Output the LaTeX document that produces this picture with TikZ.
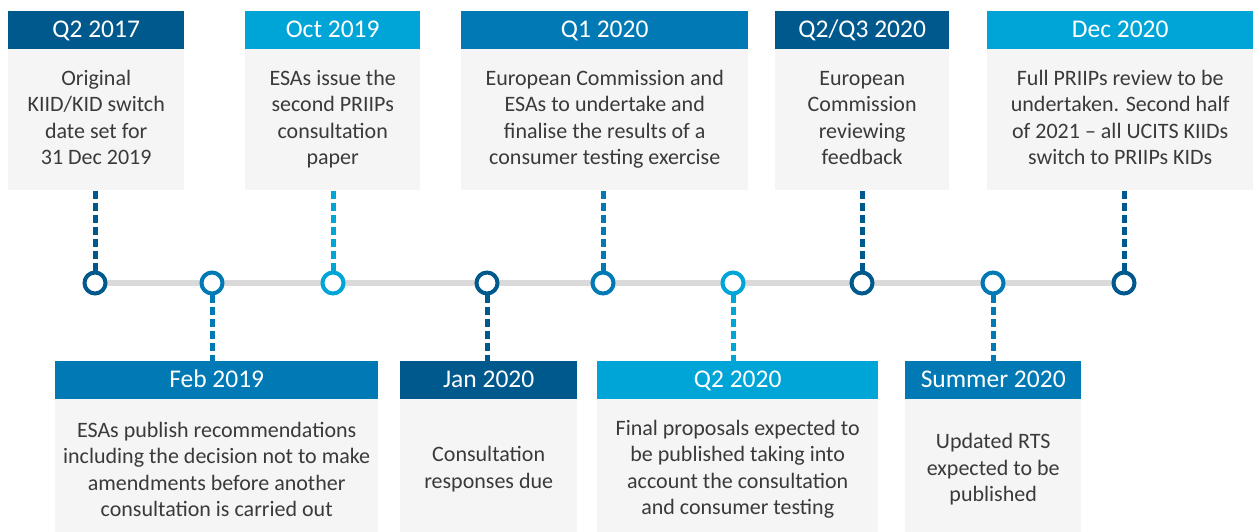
\documentclass[tikz,border=0pt]{standalone}
\usepackage{fontspec}
\setmainfont{Carlito}
\definecolor{cdark}{HTML}{00598D}
\definecolor{cmid}{HTML}{0079B4}
\definecolor{clight}{HTML}{00A5D8}
\definecolor{cbody}{HTML}{F5F5F5}
\definecolor{ctrack}{HTML}{DADADA}
\definecolor{ctext}{HTML}{3A3A3A}
% text of an upper event, set a little above the box centre
\newcommand\upperlines[1]{\raisebox{2pt}{\begin{tabular}{@{}c@{}}#1\end{tabular}}}
\begin{document}
\begin{tikzpicture}[x=1pt,y=-1pt,
  hdr/.style={anchor=north west, inner sep=0pt, minimum height=38,
    text height=18pt, text depth=3pt,
    text=white, font=\fontsize{25.5}{28}\selectfont},
  bodybox/.style={anchor=north west, fill=cbody, inner sep=0pt,
    text=ctext, align=center, font=\fontsize{22}{26.5}\selectfont},
  dot/.style={circle, draw, line width=4, fill=white, minimum size=21, inner sep=0pt},
  link/.style={line width=5, dash pattern=on 8pt off 4pt}]
\useasboundingbox (0,0) rectangle (1253,531);

% ---- upper events ----
\node[hdr, fill=cdark,  minimum width=176] (h1) at (8,11)   {Q2 2017};
\node[bodybox, minimum width=176, minimum height=141] (b1) at (8,49)
  {\upperlines{Original\\KIID/KID switch\\date set for\\31 Dec 2019}};
\node[hdr, fill=clight, minimum width=175] (h3) at (245,11) {Oct 2019};
\node[bodybox, minimum width=175, minimum height=141] (b3) at (245,49)
  {\upperlines{ESAs issue the\\second PRIIPs\\consultation\\paper}};
\node[hdr, fill=cmid,   minimum width=287] (h5) at (461,11) {Q1 2020};
\node[bodybox, minimum width=287, minimum height=141] (b5) at (461,49)
  {\upperlines{European Commission and\\ESAs to undertake and\\finalise the results of a\\consumer testing exercise}};
\node[hdr, fill=cdark,  minimum width=174] (h7) at (775,11) {Q2/Q3 2020};
\node[bodybox, minimum width=174, minimum height=141] (b7) at (775,49)
  {\upperlines{European\\Commission\\reviewing\\feedback}};
\node[hdr, fill=clight, minimum width=266] (h9) at (987,11) {Dec 2020};
\node[bodybox, minimum width=266, minimum height=141] (b9) at (987,49)
  {\upperlines{Full PRIIPs review to be\\undertaken. Second half\\of 2021 -- all UCITS KIIDs\\switch to PRIIPs KIDs}};

% ---- lower events ----
\node[hdr, fill=cmid,   minimum width=323] (h2) at (55,361)  {Feb 2019};
\node[bodybox, minimum width=323, minimum height=140] (b2) at (55,399)
  {ESAs publish recommendations\\including the decision not to make\\amendments before another\\consultation is carried out};
\node[hdr, fill=cdark,  minimum width=177] (h4) at (400,361) {Jan 2020};
\node[bodybox, minimum width=177, minimum height=140] (b4) at (400,399)
  {Consultation\\responses due};
\node[hdr, fill=clight, minimum width=281] (h6) at (597,361) {Q2 2020};
\node[bodybox, minimum width=281, minimum height=140] (b6) at (597,399)
  {Final proposals expected to\\be published taking into\\account the consultation\\and consumer testing};
\node[hdr, fill=cmid,   minimum width=176] (h8) at (905,361) {Summer 2020};
\node[bodybox, minimum width=176, minimum height=140] (b8) at (905,399)
  {Updated RTS\\expected to be\\published};

% ---- timeline anchors ----
\coordinate (p1) at (95,283);
\coordinate (p2) at (212,283);
\coordinate (p3) at (333,283);
\coordinate (p4) at (487,283);
\coordinate (p5) at (603,283);
\coordinate (p6) at (733,283);
\coordinate (p7) at (862,283);
\coordinate (p8) at (993,283);
\coordinate (p9) at (1124,283);

% track
\draw[ctrack, line width=5.5] (p1) -- (p9);

% dashed links to the event boxes
\draw[link, cdark]  (p1) -- (p1 |- b1.south);
\draw[link, clight] (p3) -- (p3 |- b3.south);
\draw[link, cmid]   (p5) -- (p5 |- b5.south);
\draw[link, cdark]  (p7) -- (p7 |- b7.south);
\draw[link, cdark]  (p9) -- (p9 |- b9.south);
\draw[link, cmid]   (p2) -- (p2 |- h2.north);
\draw[link, cdark]  (p4) -- (p4 |- h4.north);
\draw[link, clight] (p6) -- (p6 |- h6.north);
\draw[link, cmid]   (p8) -- (p8 |- h8.north);

% milestone rings
\node[dot, draw=cdark]  (c1) at (p1) {};
\node[dot, draw=cmid]   (c2) at (p2) {};
\node[dot, draw=clight] (c3) at (p3) {};
\node[dot, draw=cdark]  (c4) at (p4) {};
\node[dot, draw=cmid]   (c5) at (p5) {};
\node[dot, draw=clight] (c6) at (p6) {};
\node[dot, draw=cdark]  (c7) at (p7) {};
\node[dot, draw=cmid]   (c8) at (p8) {};
\node[dot, draw=cdark]  (c9) at (p9) {};
\end{tikzpicture}
\end{document}
